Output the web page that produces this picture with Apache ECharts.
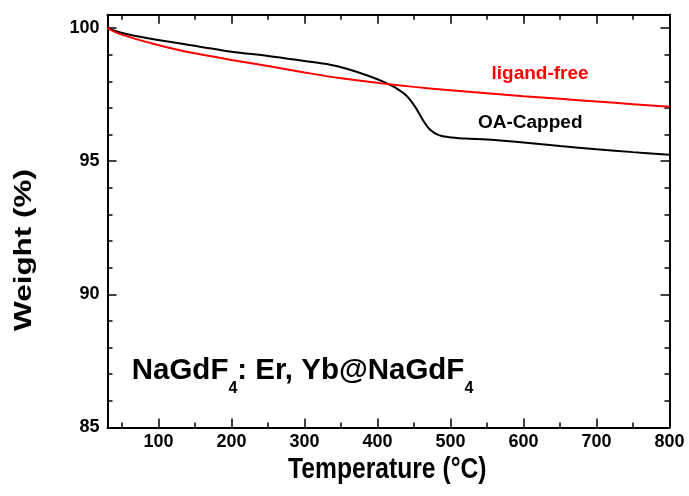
<!DOCTYPE html>
<html>
<head>
<meta charset="utf-8">
<script src="https://cdn.jsdelivr.net/npm/echarts@6/dist/echarts.min.js"></script>
<style>
  html, body { margin: 0; padding: 0; background: #ffffff; }
  #chart { width: 689px; height: 496px; }
</style>
</head>
<body>
<div id="chart"></div>
<script>
// TGA curves: temperature (°C) vs. remaining weight (%)
const tempCapped = [30, 45, 65, 110, 155, 200, 250, 300, 335, 360, 390, 410, 425, 440, 452, 462, 472, 484, 498, 520, 550, 600, 650, 700, 750, 800];
const weightCapped = [100.00, 99.85, 99.72, 99.50, 99.31, 99.11, 98.95, 98.76, 98.62, 98.45, 98.18, 97.96, 97.75, 97.45, 97.02, 96.55, 96.18, 95.98, 95.90, 95.85, 95.81, 95.70, 95.57, 95.45, 95.34, 95.24];

const tempFree = [30, 45, 65, 90, 110, 140, 160, 200, 250, 300, 350, 400, 450, 500, 550, 600, 650, 700, 750, 800];
const weightFree = [100.00, 99.80, 99.62, 99.43, 99.29, 99.10, 99.00, 98.80, 98.57, 98.33, 98.11, 97.94, 97.79, 97.66, 97.55, 97.44, 97.34, 97.24, 97.14, 97.04];

const xMajorTicks = [100, 200, 300, 400, 500, 600, 700, 800];
const xMinorTicks = [50, 150, 250, 350, 450, 550, 650, 750];
const yMajorTicks = [85, 90, 95, 100];
const yMinorTicks = [86, 87, 88, 89, 91, 92, 93, 94, 96, 97, 98, 99];

const seriesNames = ['OA-Capped', 'ligand-free'];

const FONT = '"Liberation Sans", Arial, sans-serif';
const X_RANGE = [30, 800];
const Y_RANGE = [85, 100.5];

function pairs(xs, ys) {
  return xs.map((x, i) => [x, ys[i]]);
}

function makeAxis(kind, position, ticks, tickLen, withLine, withLabels) {
  const range = kind === 'x' ? X_RANGE : Y_RANGE;
  return {
    type: 'value',
    position: position,
    min: range[0],
    max: range[1],
    splitLine: { show: false },
    axisLine: { show: withLine, onZero: false, lineStyle: { color: '#000', width: 2 } },
    axisTick: {
      show: true,
      inside: true,
      length: tickLen,
      customValues: ticks,
      lineStyle: { color: '#000', width: 1.5 }
    },
    axisLabel: withLabels ? {
      show: true,
      customValues: ticks,
      margin: kind === 'x' ? 6 : 8,
      color: '#000',
      fontFamily: FONT,
      fontWeight: 'bold',
      fontSize: 18
    } : { show: false }
  };
}

// measure text so the sample formula can be laid out with subscripts
const measureCtx = document.createElement('canvas').getContext('2d');
function textWidth(str, size) {
  measureCtx.font = 'bold ' + size + 'px ' + FONT;
  return measureCtx.measureText(str).width;
}

function formulaPieces(x0, baseY, mainSize, subSize, subDrop) {
  const parts = [
    { t: 'NaGdF', sub: false },
    { t: '4', sub: true },
    { t: ': Er, Yb@NaGdF', sub: false },
    { t: '4', sub: true }
  ];
  const out = [];
  let x = x0;
  parts.forEach(p => {
    const size = p.sub ? subSize : mainSize;
    out.push({
      type: 'text',
      x: x,
      y: baseY + (p.sub ? subDrop : 0),
      style: {
        text: p.t,
        fill: '#000',
        font: 'bold ' + size + 'px ' + FONT,
        textAlign: 'left',
        textVerticalAlign: 'middle'
      }
    });
    x += textWidth(p.t, size);
  });
  return out;
}

const chart = echarts.init(document.getElementById('chart'), null, { renderer: 'canvas' });

const option = {
  animation: false,
  backgroundColor: '#ffffff',
  grid: { left: 107.5, right: 19.5, top: 14.7, bottom: 68.5, containLabel: false },
  xAxis: [
    makeAxis('x', 'bottom', xMajorTicks, 9, true, true),
    makeAxis('x', 'bottom', xMinorTicks, 5, false, false),
    makeAxis('x', 'top', xMajorTicks, 9, true, false),
    makeAxis('x', 'top', xMinorTicks, 5, false, false)
  ],
  yAxis: [
    makeAxis('y', 'left', yMajorTicks, 9, true, true),
    makeAxis('y', 'left', yMinorTicks, 5, false, false),
    makeAxis('y', 'right', yMajorTicks, 9, true, false),
    makeAxis('y', 'right', yMinorTicks, 5, false, false)
  ],
  series: [
    {
      name: seriesNames[0],
      type: 'line',
      xAxisIndex: 0,
      yAxisIndex: 0,
      data: pairs(tempCapped, weightCapped),
      showSymbol: false,
      smooth: 0.35,
      lineStyle: { color: '#000000', width: 2 },
      z: 2
    },
    {
      name: seriesNames[1],
      type: 'line',
      xAxisIndex: 0,
      yAxisIndex: 0,
      data: pairs(tempFree, weightFree),
      showSymbol: false,
      smooth: 0.35,
      lineStyle: { color: '#ff0000', width: 2 },
      z: 3
    }
  ],
  graphic: [
    {
      type: 'text',
      x: 387.3,
      y: 470.4,
      scaleX: 0.85,
      style: {
        text: 'Temperature (°C)',
        fill: '#000',
        font: 'bold 29px ' + FONT,
        textAlign: 'center',
        textVerticalAlign: 'middle'
      }
    },
    {
      type: 'text',
      x: 24.3,
      y: 250,
      rotation: Math.PI / 2,
      scaleX: 1.31,
      style: {
        text: 'Weight (%)',
        fill: '#000',
        font: 'bold 24px ' + FONT,
        textAlign: 'center',
        textVerticalAlign: 'middle'
      }
    },
    {
      type: 'text',
      x: 491.5,
      y: 73.5,
      style: {
        text: seriesNames[1],
        fill: '#ff0000',
        font: 'bold 19px ' + FONT,
        textAlign: 'left',
        textVerticalAlign: 'middle'
      }
    },
    {
      type: 'text',
      x: 478,
      y: 123,
      style: {
        text: seriesNames[0],
        fill: '#000',
        font: 'bold 19px ' + FONT,
        textAlign: 'left',
        textVerticalAlign: 'middle'
      }
    }
  ].concat(formulaPieces(131.7, 370.4, 29.5, 16, 18))
};

chart.setOption(option);
</script>
</body>
</html>
